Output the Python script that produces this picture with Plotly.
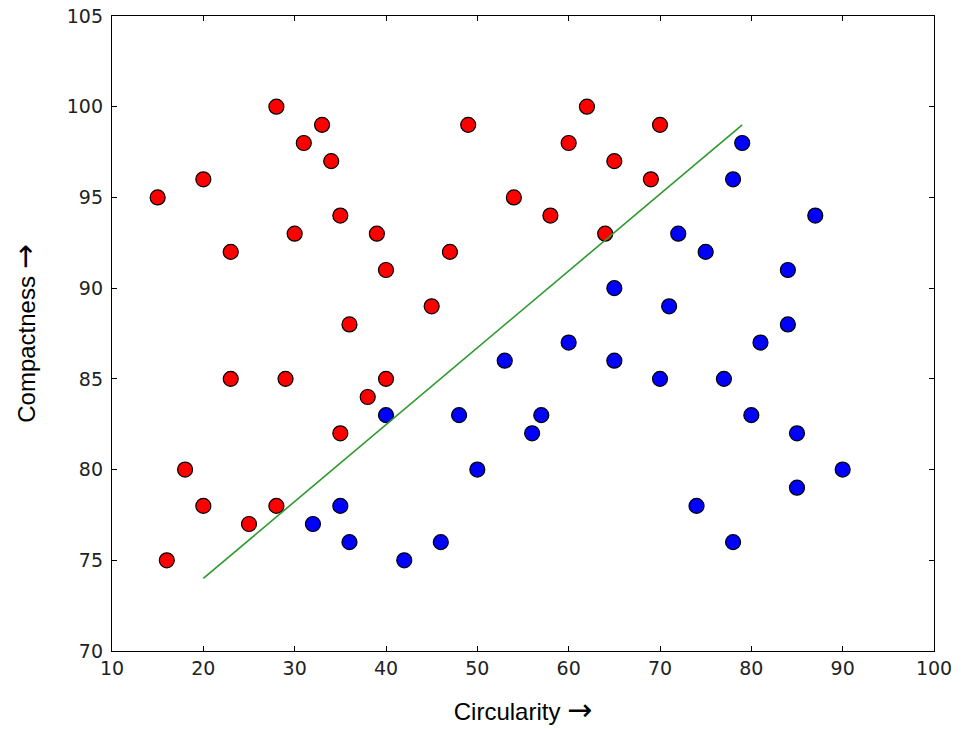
import plotly.graph_objects as go

red_x = [15, 16, 18, 20, 20, 23, 23, 25, 28, 28, 29, 30, 31, 33, 34, 35, 35, 36, 38, 39, 40, 40, 45, 47, 49, 54, 58, 60, 62, 64, 65, 69, 70]
red_y = [95, 75, 80, 96, 78, 92, 85, 77, 100, 78, 85, 93, 98, 99, 97, 94, 82, 88, 84, 93, 91, 85, 89, 92, 99, 95, 94, 98, 100, 93, 97, 96, 99]

blue_x = [32, 35, 36, 40, 42, 46, 48, 50, 53, 56, 57, 60, 65, 65, 70, 71, 72, 74, 75, 77, 78, 78, 79, 80, 81, 84, 84, 85, 85, 87, 90]
blue_y = [77, 78, 76, 83, 75, 76, 83, 80, 86, 82, 83, 87, 90, 86, 85, 89, 93, 78, 92, 85, 96, 76, 98, 83, 87, 91, 88, 82, 79, 94, 80]

line_x = [20, 79]
line_y = [74, 99]

x_ticks = [10, 20, 30, 40, 50, 60, 70, 80, 90, 100]
y_ticks = [70, 75, 80, 85, 90, 95, 100, 105]

fig = go.Figure()
fig.add_trace(go.Scatter(x=red_x, y=red_y, mode="markers",
                         marker=dict(size=15, color="#ff0000", line=dict(color="black", width=1.2)),
                         showlegend=False, cliponaxis=False))
fig.add_trace(go.Scatter(x=blue_x, y=blue_y, mode="markers",
                         marker=dict(size=15, color="#0000ff", line=dict(color="black", width=1.2)),
                         showlegend=False, cliponaxis=False))
fig.add_trace(go.Scatter(x=line_x, y=line_y, mode="lines",
                         line=dict(color="#2e9a2e", width=1.6), showlegend=False))

axis_common = dict(showgrid=False, zeroline=False, showline=True, linecolor="black", linewidth=1.3,
                   mirror="ticks", ticks="inside", ticklen=5, tickwidth=1, tickcolor="black",
                   automargin=False,
                   tickfont=dict(family="DejaVu Sans", size=19, color="#222222"))

arrow = "<span style='font-family:DejaVu Sans;font-size:30px'>→</span>"

fig.update_xaxes(range=[10, 100], tickvals=x_ticks, ticktext=[str(v) for v in x_ticks],
                 title=dict(text="Circularity " + arrow, font=dict(family="Liberation Sans", size=24, color="black"), standoff=25),
                 **axis_common)
fig.update_yaxes(range=[70, 105], tickvals=y_ticks, ticktext=[str(v) for v in y_ticks],
                 title=dict(text="Compactness " + arrow, font=dict(family="Liberation Sans", size=24, color="black"), standoff=24),
                 ticklabelstandoff=4, **axis_common)

fig.update_layout(width=967, height=729, margin=dict(l=112, r=33, t=16, b=78, autoexpand=False),
                  plot_bgcolor="white", paper_bgcolor="white")

fig.write_html("out.html")
